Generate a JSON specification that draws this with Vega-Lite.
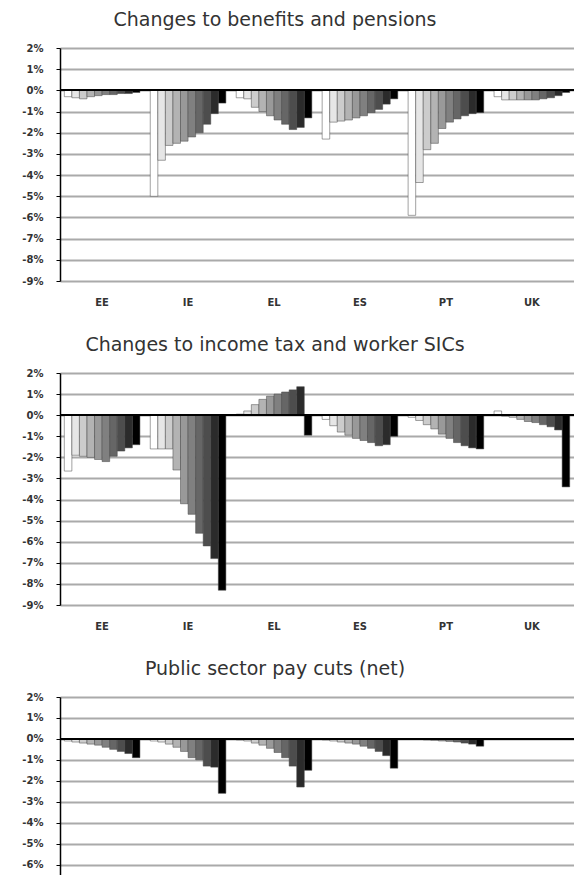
{
  "$schema": "https://vega.github.io/schema/vega-lite/v6.json",
  "padding": {"left": 5, "top": 11, "right": 0, "bottom": 0},
  "background": "white",
  "spacing": 29,
  "datasets": {
    "benefits": [
      {"country": "EE", "decile": 1, "value": -0.3}, {"country": "EE", "decile": 2, "value": -0.35}, {"country": "EE", "decile": 3, "value": -0.4}, {"country": "EE", "decile": 4, "value": -0.3}, {"country": "EE", "decile": 5, "value": -0.25}, {"country": "EE", "decile": 6, "value": -0.2}, {"country": "EE", "decile": 7, "value": -0.2}, {"country": "EE", "decile": 8, "value": -0.15}, {"country": "EE", "decile": 9, "value": -0.15}, {"country": "EE", "decile": 10, "value": -0.1},
      {"country": "IE", "decile": 1, "value": -5.0}, {"country": "IE", "decile": 2, "value": -3.3}, {"country": "IE", "decile": 3, "value": -2.6}, {"country": "IE", "decile": 4, "value": -2.5}, {"country": "IE", "decile": 5, "value": -2.4}, {"country": "IE", "decile": 6, "value": -2.2}, {"country": "IE", "decile": 7, "value": -2.0}, {"country": "IE", "decile": 8, "value": -1.6}, {"country": "IE", "decile": 9, "value": -1.1}, {"country": "IE", "decile": 10, "value": -0.6},
      {"country": "EL", "decile": 1, "value": -0.35}, {"country": "EL", "decile": 2, "value": -0.4}, {"country": "EL", "decile": 3, "value": -0.8}, {"country": "EL", "decile": 4, "value": -1.0}, {"country": "EL", "decile": 5, "value": -1.2}, {"country": "EL", "decile": 6, "value": -1.4}, {"country": "EL", "decile": 7, "value": -1.6}, {"country": "EL", "decile": 8, "value": -1.85}, {"country": "EL", "decile": 9, "value": -1.75}, {"country": "EL", "decile": 10, "value": -1.3},
      {"country": "ES", "decile": 1, "value": -2.3}, {"country": "ES", "decile": 2, "value": -1.5}, {"country": "ES", "decile": 3, "value": -1.45}, {"country": "ES", "decile": 4, "value": -1.4}, {"country": "ES", "decile": 5, "value": -1.3}, {"country": "ES", "decile": 6, "value": -1.2}, {"country": "ES", "decile": 7, "value": -1.05}, {"country": "ES", "decile": 8, "value": -0.9}, {"country": "ES", "decile": 9, "value": -0.65}, {"country": "ES", "decile": 10, "value": -0.4},
      {"country": "PT", "decile": 1, "value": -5.9}, {"country": "PT", "decile": 2, "value": -4.35}, {"country": "PT", "decile": 3, "value": -2.8}, {"country": "PT", "decile": 4, "value": -2.5}, {"country": "PT", "decile": 5, "value": -1.8}, {"country": "PT", "decile": 6, "value": -1.5}, {"country": "PT", "decile": 7, "value": -1.35}, {"country": "PT", "decile": 8, "value": -1.2}, {"country": "PT", "decile": 9, "value": -1.1}, {"country": "PT", "decile": 10, "value": -1.05},
      {"country": "UK", "decile": 1, "value": -0.3}, {"country": "UK", "decile": 2, "value": -0.45}, {"country": "UK", "decile": 3, "value": -0.45}, {"country": "UK", "decile": 4, "value": -0.45}, {"country": "UK", "decile": 5, "value": -0.45}, {"country": "UK", "decile": 6, "value": -0.45}, {"country": "UK", "decile": 7, "value": -0.4}, {"country": "UK", "decile": 8, "value": -0.35}, {"country": "UK", "decile": 9, "value": -0.25}, {"country": "UK", "decile": 10, "value": -0.1}
    ],
    "tax": [
      {"country": "EE", "decile": 1, "value": -2.65}, {"country": "EE", "decile": 2, "value": -1.9}, {"country": "EE", "decile": 3, "value": -1.95}, {"country": "EE", "decile": 4, "value": -2.0}, {"country": "EE", "decile": 5, "value": -2.1}, {"country": "EE", "decile": 6, "value": -2.2}, {"country": "EE", "decile": 7, "value": -1.95}, {"country": "EE", "decile": 8, "value": -1.7}, {"country": "EE", "decile": 9, "value": -1.55}, {"country": "EE", "decile": 10, "value": -1.4},
      {"country": "IE", "decile": 1, "value": -1.6}, {"country": "IE", "decile": 2, "value": -1.6}, {"country": "IE", "decile": 3, "value": -1.6}, {"country": "IE", "decile": 4, "value": -2.6}, {"country": "IE", "decile": 5, "value": -4.2}, {"country": "IE", "decile": 6, "value": -4.7}, {"country": "IE", "decile": 7, "value": -5.6}, {"country": "IE", "decile": 8, "value": -6.2}, {"country": "IE", "decile": 9, "value": -6.8}, {"country": "IE", "decile": 10, "value": -8.3},
      {"country": "EL", "decile": 1, "value": 0.05}, {"country": "EL", "decile": 2, "value": 0.2}, {"country": "EL", "decile": 3, "value": 0.5}, {"country": "EL", "decile": 4, "value": 0.75}, {"country": "EL", "decile": 5, "value": 0.9}, {"country": "EL", "decile": 6, "value": 1.0}, {"country": "EL", "decile": 7, "value": 1.1}, {"country": "EL", "decile": 8, "value": 1.2}, {"country": "EL", "decile": 9, "value": 1.35}, {"country": "EL", "decile": 10, "value": -0.95},
      {"country": "ES", "decile": 1, "value": -0.2}, {"country": "ES", "decile": 2, "value": -0.5}, {"country": "ES", "decile": 3, "value": -0.8}, {"country": "ES", "decile": 4, "value": -0.95}, {"country": "ES", "decile": 5, "value": -1.1}, {"country": "ES", "decile": 6, "value": -1.2}, {"country": "ES", "decile": 7, "value": -1.3}, {"country": "ES", "decile": 8, "value": -1.45}, {"country": "ES", "decile": 9, "value": -1.4}, {"country": "ES", "decile": 10, "value": -1.0},
      {"country": "PT", "decile": 1, "value": -0.1}, {"country": "PT", "decile": 2, "value": -0.25}, {"country": "PT", "decile": 3, "value": -0.45}, {"country": "PT", "decile": 4, "value": -0.65}, {"country": "PT", "decile": 5, "value": -0.9}, {"country": "PT", "decile": 6, "value": -1.1}, {"country": "PT", "decile": 7, "value": -1.3}, {"country": "PT", "decile": 8, "value": -1.45}, {"country": "PT", "decile": 9, "value": -1.55}, {"country": "PT", "decile": 10, "value": -1.6},
      {"country": "UK", "decile": 1, "value": 0.2}, {"country": "UK", "decile": 2, "value": -0.05}, {"country": "UK", "decile": 3, "value": -0.1}, {"country": "UK", "decile": 4, "value": -0.2}, {"country": "UK", "decile": 5, "value": -0.3}, {"country": "UK", "decile": 6, "value": -0.35}, {"country": "UK", "decile": 7, "value": -0.45}, {"country": "UK", "decile": 8, "value": -0.55}, {"country": "UK", "decile": 9, "value": -0.7}, {"country": "UK", "decile": 10, "value": -3.4}
    ],
    "pay": [
      {"country": "EE", "decile": 1, "value": -0.1}, {"country": "EE", "decile": 2, "value": -0.15}, {"country": "EE", "decile": 3, "value": -0.2}, {"country": "EE", "decile": 4, "value": -0.25}, {"country": "EE", "decile": 5, "value": -0.3}, {"country": "EE", "decile": 6, "value": -0.4}, {"country": "EE", "decile": 7, "value": -0.5}, {"country": "EE", "decile": 8, "value": -0.6}, {"country": "EE", "decile": 9, "value": -0.7}, {"country": "EE", "decile": 10, "value": -0.9},
      {"country": "IE", "decile": 1, "value": -0.1}, {"country": "IE", "decile": 2, "value": -0.15}, {"country": "IE", "decile": 3, "value": -0.25}, {"country": "IE", "decile": 4, "value": -0.4}, {"country": "IE", "decile": 5, "value": -0.6}, {"country": "IE", "decile": 6, "value": -0.9}, {"country": "IE", "decile": 7, "value": -1.0}, {"country": "IE", "decile": 8, "value": -1.3}, {"country": "IE", "decile": 9, "value": -1.35}, {"country": "IE", "decile": 10, "value": -2.6},
      {"country": "EL", "decile": 1, "value": -0.05}, {"country": "EL", "decile": 2, "value": -0.1}, {"country": "EL", "decile": 3, "value": -0.2}, {"country": "EL", "decile": 4, "value": -0.3}, {"country": "EL", "decile": 5, "value": -0.45}, {"country": "EL", "decile": 6, "value": -0.65}, {"country": "EL", "decile": 7, "value": -0.9}, {"country": "EL", "decile": 8, "value": -1.3}, {"country": "EL", "decile": 9, "value": -2.3}, {"country": "EL", "decile": 10, "value": -1.5},
      {"country": "ES", "decile": 1, "value": -0.05}, {"country": "ES", "decile": 2, "value": -0.1}, {"country": "ES", "decile": 3, "value": -0.15}, {"country": "ES", "decile": 4, "value": -0.2}, {"country": "ES", "decile": 5, "value": -0.25}, {"country": "ES", "decile": 6, "value": -0.35}, {"country": "ES", "decile": 7, "value": -0.45}, {"country": "ES", "decile": 8, "value": -0.6}, {"country": "ES", "decile": 9, "value": -0.8}, {"country": "ES", "decile": 10, "value": -1.4},
      {"country": "PT", "decile": 1, "value": -0.02}, {"country": "PT", "decile": 2, "value": -0.03}, {"country": "PT", "decile": 3, "value": -0.05}, {"country": "PT", "decile": 4, "value": -0.07}, {"country": "PT", "decile": 5, "value": -0.1}, {"country": "PT", "decile": 6, "value": -0.12}, {"country": "PT", "decile": 7, "value": -0.15}, {"country": "PT", "decile": 8, "value": -0.2}, {"country": "PT", "decile": 9, "value": -0.25}, {"country": "PT", "decile": 10, "value": -0.35},
      {"country": "UK", "decile": 1, "value": 0}, {"country": "UK", "decile": 2, "value": 0}, {"country": "UK", "decile": 3, "value": 0}, {"country": "UK", "decile": 4, "value": 0}, {"country": "UK", "decile": 5, "value": 0}, {"country": "UK", "decile": 6, "value": 0}, {"country": "UK", "decile": 7, "value": 0}, {"country": "UK", "decile": 8, "value": 0}, {"country": "UK", "decile": 9, "value": 0}, {"country": "UK", "decile": 10, "value": 0}
    ]
  },
  "vconcat": [
    {
      "title": {"text": "Changes to benefits and pensions"},
      "width": 514,
      "height": 233,
      "data": {"name": "benefits"},
      "layer": [
        {
          "mark": {"type": "bar", "stroke": "#444444", "strokeWidth": 0.5},
          "encoding": {
            "x": {"field": "country", "type": "nominal", "sort": ["EE", "IE", "EL", "ES", "PT", "UK"], "scale": {"paddingInner": 0.12, "paddingOuter": 0.05}, "axis": {"title": null, "labelAngle": 0}},
            "xOffset": {"field": "decile", "type": "ordinal", "scale": {"paddingInner": 0, "paddingOuter": 0}},
            "y": {"field": "value", "type": "quantitative", "scale": {"domain": [-9, 2], "nice": false}, "axis": {"title": null, "values": [2, 1, 0, -1, -2, -3, -4, -5, -6, -7, -8, -9], "tickCount": 30, "labelOverlap": false, "labelExpr": "datum.value + '%'"}},
            "color": {"field": "decile", "type": "ordinal", "scale": {"range": ["#ffffff", "#e6e6e6", "#cccccc", "#b3b3b3", "#999999", "#808080", "#666666", "#4d4d4d", "#2b2b2b", "#000000"]}, "legend": null}
          }
        },
        {"mark": {"type": "rule", "color": "#000000", "strokeWidth": 1.5}, "encoding": {"y": {"datum": 0}}}
      ]
    },
    {
      "title": {"text": "Changes to income tax and worker SICs"},
      "width": 514,
      "height": 232,
      "data": {"name": "tax"},
      "layer": [
        {
          "mark": {"type": "bar", "stroke": "#444444", "strokeWidth": 0.5},
          "encoding": {
            "x": {"field": "country", "type": "nominal", "sort": ["EE", "IE", "EL", "ES", "PT", "UK"], "scale": {"paddingInner": 0.12, "paddingOuter": 0.05}, "axis": {"title": null, "labelAngle": 0}},
            "xOffset": {"field": "decile", "type": "ordinal", "scale": {"paddingInner": 0, "paddingOuter": 0}},
            "y": {"field": "value", "type": "quantitative", "scale": {"domain": [-9, 2], "nice": false}, "axis": {"title": null, "values": [2, 1, 0, -1, -2, -3, -4, -5, -6, -7, -8, -9], "tickCount": 30, "labelOverlap": false, "labelExpr": "datum.value + '%'"}},
            "color": {"field": "decile", "type": "ordinal", "scale": {"range": ["#ffffff", "#e6e6e6", "#cccccc", "#b3b3b3", "#999999", "#808080", "#666666", "#4d4d4d", "#2b2b2b", "#000000"]}, "legend": null}
          }
        },
        {"mark": {"type": "rule", "color": "#000000", "strokeWidth": 1.5}, "encoding": {"y": {"datum": 0}}}
      ]
    },
    {
      "title": {"text": "Public sector pay cuts (net)"},
      "width": 514,
      "height": 178,
      "data": {"name": "pay"},
      "layer": [
        {
          "mark": {"type": "bar", "stroke": "#444444", "strokeWidth": 0.5},
          "encoding": {
            "x": {"field": "country", "type": "nominal", "sort": ["EE", "IE", "EL", "ES", "PT", "UK"], "scale": {"paddingInner": 0.12, "paddingOuter": 0.05}, "axis": {"title": null, "labelAngle": 0, "labels": false}},
            "xOffset": {"field": "decile", "type": "ordinal", "scale": {"paddingInner": 0, "paddingOuter": 0}},
            "y": {"field": "value", "type": "quantitative", "scale": {"domain": [-6.5, 2], "nice": false}, "axis": {"title": null, "values": [2, 1, 0, -1, -2, -3, -4, -5, -6], "tickCount": 30, "labelOverlap": false, "labelExpr": "datum.value + '%'"}},
            "color": {"field": "decile", "type": "ordinal", "scale": {"range": ["#ffffff", "#e6e6e6", "#cccccc", "#b3b3b3", "#999999", "#808080", "#666666", "#4d4d4d", "#2b2b2b", "#000000"]}, "legend": null}
          }
        },
        {"mark": {"type": "rule", "color": "#000000", "strokeWidth": 1.5}, "encoding": {"y": {"datum": 0}}}
      ]
    }
  ],
  "config": {
    "view": {"stroke": null},
    "font": "DejaVu Sans",
    "title": {"fontSize": 19, "fontWeight": "normal", "color": "#333333", "font": "DejaVu Sans", "dx": -42, "offset": 13},
    "axisY": {"domainColor": "#000000", "domainWidth": 1.5, "gridColor": "#aaaaaa", "gridWidth": 2, "tickColor": "#000000", "tickSize": 4, "labelFontSize": 10, "labelFontWeight": "bold", "labelColor": "#333333", "labelPadding": 13, "labelOverlap": false, "labelBound": false, "minExtent": 55, "maxExtent": 55},
    "axisX": {"domain": false, "ticks": false, "grid": false, "labelFontSize": 10, "labelFontWeight": "bold", "labelColor": "#333333", "labelPadding": 16, "labelOverlap": false}
  }
}
